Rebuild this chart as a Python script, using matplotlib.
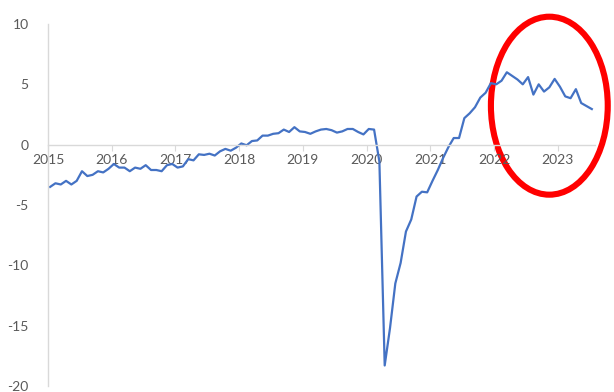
import matplotlib
matplotlib.use("Agg")
import matplotlib.pyplot as plt
from matplotlib.patches import Ellipse

years = ["2015", "2016", "2017", "2018", "2019", "2020", "2021", "2022", "2023"]
values_2015 = [-3.5, -3.2, -3.3, -3.0, -3.3, -3.0, -2.2, -2.6, -2.5, -2.2, -2.3, -2.0]
values_2016 = [-1.6, -1.9, -1.9, -2.2, -1.9, -2.0, -1.7, -2.1, -2.1, -2.2, -1.7, -1.6]
values_2017 = [-1.9, -1.8, -1.2, -1.3, -0.8, -0.85, -0.75, -0.9, -0.55, -0.35, -0.5, -0.25]
values_2018 = [0.1, -0.05, 0.3, 0.35, 0.75, 0.75, 0.9, 0.95, 1.25, 1.05, 1.45, 1.1]
values_2019 = [1.05, 0.9, 1.1, 1.25, 1.3, 1.2, 1.0, 1.1, 1.3, 1.3, 1.05, 0.85]
values_2020 = [1.3, 1.25, -1.4, -18.3, -15.2, -11.5, -9.8, -7.2, -6.2, -4.3, -3.9, -3.95]
values_2021 = [-3.0, -2.1, -1.1, -0.2, 0.55, 0.55, 2.2, 2.6, 3.1, 3.9, 4.3, 5.1]
values_2022 = [5.0, 5.3, 6.0, 5.7, 5.4, 5.0, 5.6, 4.15, 5.0, 4.4, 4.75, 5.45]
values_2023 = [4.8, 4.0, 3.85, 4.6, 3.45, 3.2, 2.95]

values = (values_2015 + values_2016 + values_2017 + values_2018 + values_2019
          + values_2020 + values_2021 + values_2022 + values_2023)
months = [i + 0.4 for i in range(len(values))]
y_ticks = [10, 5, 0, -5, -10, -15, -20]

W, H = 614, 392
fig = plt.figure(figsize=(W / 100, H / 100), dpi=100)
ax = fig.add_axes([48 / W, 6 / H, (595 - 48) / W, (386 - 24) / H])

ax.plot(months, values, color="#4472C4", linewidth=1.6, solid_joinstyle="round")

ax.set_xlim(0, 103)
ax.set_ylim(-20, 10)
ax.set_yticks(y_ticks)
ax.set_yticklabels([str(v) for v in y_ticks])
ax.set_xticks([12 * i for i in range(len(years))])
ax.set_xticklabels(years)

for s in ["top", "right"]:
    ax.spines[s].set_visible(False)
ax.spines["bottom"].set_position(("data", 0))
ax.spines["bottom"].set_color("#D9D9D9")
ax.spines["left"].set_color("#D9D9D9")
ax.spines["bottom"].set_linewidth(1.0)
ax.spines["left"].set_linewidth(1.0)

ax.tick_params(axis="x", length=4, color="#D9D9D9", pad=3, labelsize=10, labelcolor="#595959")
ax.tick_params(axis="y", length=0, pad=14, labelsize=10, labelcolor="#595959")
for lab in ax.get_xticklabels() + ax.get_yticklabels():
    lab.set_fontfamily("Lato")

ell = Ellipse((94.4, 3.23), width=22.0, height=14.75, fill=False,
              edgecolor="#FF0000", linewidth=4.4, clip_on=False)
ax.add_patch(ell)

fig.savefig("out.png", dpi=100)
